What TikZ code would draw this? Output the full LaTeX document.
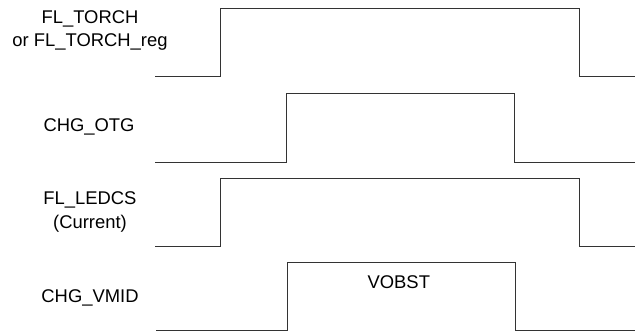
\documentclass[tikz,border=0pt]{standalone}
\usepackage{fontspec}
\setmainfont{Liberation Sans}
\usetikzlibrary{calc, positioning}

\tikzset{
  wave/.style={line width=0.8pt, black!80, line join=miter},
  sig/.style={font=\fontsize{18.4}{23.4}\selectfont, align=center, inner sep=0pt, anchor=north}
}

\begin{document}
\begin{tikzpicture}[x=1pt, y=-1pt]
\useasboundingbox (0,0) rectangle (635,333);

% signal names
\node[sig] (torch) at (90,10) {FL\_TORCH\\or FL\_TORCH\_reg};
\node[sig] (otg) at (89,118.3) {CHG\_OTG};
\node[sig] (ledcs) at (90,191.7) {FL\_LEDCS\\(Current)};
\node[sig] (vmid) at (90,289.3) {CHG\_VMID};

% waveforms
\draw[wave] (155,76) -- (220.7,76) -- (220.7,8) -- (579.3,8) -- (579.3,76) -- (635,76);
\draw[wave] (155,162) -- (286,162) -- (286,93.7) -- (514.3,93.7) -- (514.3,162) -- (635,162);
\draw[wave] (155,246.3) -- (220.7,246.3) -- (220.7,178.7) -- (579.3,178.7) -- (579.3,246.3) -- (635,246.3);
\draw[wave] (156,330) -- (287.3,330) -- (287.3,262.3) -- (515.7,262.3) -- (515.7,330) -- (635,330);

\node[sig] (vobst) at (398.8,275) {VOBST};

\end{tikzpicture}
\end{document}
